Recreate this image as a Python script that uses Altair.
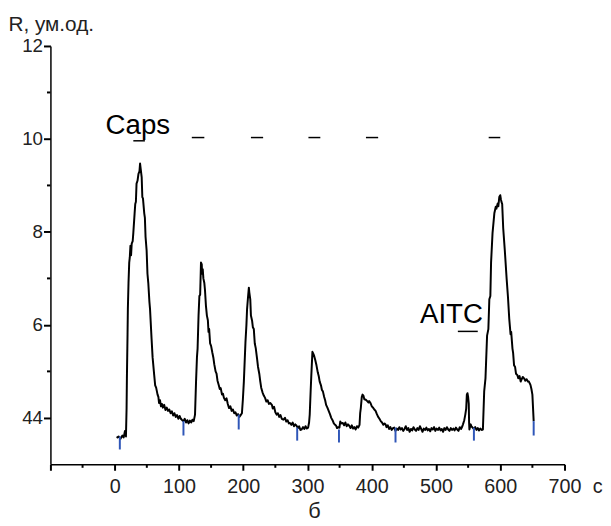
import altair as alt
import pandas as pd

# ---- trace (time, s ; R, arb. units) ----
t = [3, 6, 9, 12, 14, 16, 17.5, 18.5, 19, 20, 20.5, 21.5, 22.6, 23.5, 24.5, 25.5, 26.5, 28, 29, 31,
     32, 33, 34, 35.5, 37, 38.5, 39.5, 40.5, 42, 43, 44, 46, 47, 48, 49.7, 51, 52.3, 54, 55, 57.4,
     59, 61.5, 63, 64.5, 66.7, 68, 69, 70.5, 72, 73.5, 75, 77, 79, 81, 83, 85, 87, 89, 91, 93,
     95, 97, 99, 101, 103, 105, 107, 109, 111, 113, 115, 117, 119, 121, 123, 125, 126.6, 128, 129, 130.5,
     131.8, 133, 134.3, 135.5, 136, 137, 138, 139.5, 140.5, 142, 143.5, 145, 146, 147, 148.5, 150, 152, 153.5,
     155, 157, 158.5, 160, 162, 163.5, 165, 167, 168.5, 170, 172, 174, 176, 178, 180, 182, 184, 186,
     188, 190, 192, 194, 196, 198, 199.5, 201, 203.5, 205, 206, 207.5, 208.8, 209.5, 211, 212, 213.8, 215,
     216.5, 218, 219.5, 221.5, 223, 225, 226.6, 228, 230, 232, 234, 236, 238, 240, 242, 244.6, 246, 248,
     250, 252, 254, 256, 258, 260, 262.6, 265, 267, 269, 271, 272.8, 275, 277, 279, 281, 283, 285,
     287, 289, 290.8, 293, 295, 297, 299, 301, 302.5, 303.5, 305, 306, 307.7, 309, 310, 312, 314, 316,
     317.5, 319, 321, 322.5, 324, 326, 327.5, 329, 331, 333, 335, 337, 339, 341, 343, 344.6, 346, 348,
     349.7, 351, 353, 355, 357, 359, 361, 363, 365, 367, 369, 371, 373, 375, 377, 379, 381, 382,
     383, 384.5, 385.7, 387, 388.5, 390.8, 393, 395, 396, 398, 400, 402, 404, 406, 408, 410, 412, 414,
     416, 418, 420, 421.5, 423, 425, 427, 429, 431, 433, 435, 437, 439, 441, 443, 445, 447, 449,
     451, 453, 455, 457, 459, 461, 463, 465, 467, 469, 471, 473, 475, 477, 479, 481, 483, 485,
     487, 489, 491, 493, 495, 497, 499, 501, 503, 505, 507, 509, 511, 513, 515, 517, 519, 521,
     523, 525, 527, 529, 531, 533, 535, 537, 539, 541, 542, 544, 545.6, 547, 548, 549, 550, 551,
     551.5, 552, 554, 555, 557, 559, 561, 563, 565, 567, 569, 571, 573, 575, 577, 579.5, 581.5, 583,
     584.6, 585.7, 588, 590.8, 593, 594, 596, 597, 598.5, 600, 601, 602, 603, 604.6, 607, 610, 612, 614,
     616, 617, 619, 620, 621.5, 623, 624.5, 626.6, 628, 630, 631.8, 633, 635, 637, 639, 641, 643, 644.6,
     647, 648.5, 650, 652]
r = [3.57, 3.60, 3.55, 3.62, 3.58, 3.72, 3.60, 4.20, 4.85, 5.80, 6.34, 6.90, 7.34, 7.45, 7.70, 7.50, 7.75, 7.80, 7.98, 8.40,
     8.60, 8.65, 9.04, 9.10, 9.25, 9.30, 9.47, 9.35, 9.18, 8.75, 8.72, 8.40, 8.30, 7.90, 7.60, 7.10, 6.90, 6.50, 6.34, 5.70,
     5.30, 4.92, 4.70, 4.65, 4.50, 4.45, 4.32, 4.38, 4.25, 4.30, 4.22, 4.28, 4.17, 4.22, 4.15, 4.18, 4.10, 4.14, 4.05, 4.10,
     4.02, 4.06, 3.98, 4.04, 3.98, 3.95, 3.93, 3.98, 3.90, 3.95, 3.88, 3.94, 3.90, 3.96, 3.93, 4.07, 4.78, 5.30, 5.49, 6.20,
     6.62, 6.65, 7.34, 7.30, 7.10, 7.20, 7.00, 6.90, 6.75, 6.41, 6.20, 6.10, 5.85, 5.91, 5.60, 5.55, 5.40, 5.30,
     5.15, 5.00, 4.95, 4.80, 4.70, 4.62, 4.64, 4.50, 4.52, 4.43, 4.38, 4.42, 4.30, 4.21, 4.25, 4.15, 4.18, 4.10,
     4.12, 4.05, 4.08, 4.02, 4.06, 4.10, 4.40, 4.78, 5.63, 6.00, 6.34, 6.60, 6.80, 6.70, 6.55, 6.20, 6.09, 5.95,
     5.91, 5.60, 5.50, 5.28, 5.10, 4.95, 4.78, 4.65, 4.55, 4.48, 4.43, 4.35, 4.38, 4.30, 4.32, 4.28, 4.20, 4.24,
     4.12, 4.07, 4.10, 4.02, 4.06, 3.98, 3.96, 4.00, 3.92, 3.95, 3.88, 3.89, 3.85, 3.90, 3.82, 3.86, 3.83, 3.78,
     3.82, 3.74, 3.75, 3.80, 3.76, 3.82, 3.77, 3.79, 3.90, 4.07, 4.60, 4.92, 5.42, 5.38, 5.35, 5.25, 5.13, 4.98,
     4.90, 4.78, 4.70, 4.60, 4.57, 4.45, 4.38, 4.28, 4.22, 4.15, 4.08, 4.00, 3.95, 3.88, 3.85, 3.83, 3.78, 3.80,
     3.79, 3.92, 3.88, 3.89, 3.84, 3.90, 3.82, 3.86, 3.83, 3.78, 3.84, 3.77, 3.80, 3.75, 3.82, 3.79, 3.85, 4.10,
     4.21, 4.45, 4.50, 4.48, 4.40, 4.39, 4.36, 4.33, 4.36, 4.32, 4.25, 4.22, 4.18, 4.15, 4.08, 4.02, 3.98, 3.93,
     3.90, 3.85, 3.88, 3.86, 3.80, 3.84, 3.76, 3.80, 3.74, 3.78, 3.79, 3.72, 3.77, 3.74, 3.80, 3.75, 3.78, 3.72,
     3.76, 3.82, 3.74, 3.78, 3.70, 3.76, 3.73, 3.80, 3.75, 3.72, 3.78, 3.74, 3.82, 3.76, 3.70, 3.77, 3.74, 3.79,
     3.73, 3.76, 3.71, 3.78, 3.75, 3.80, 3.72, 3.77, 3.74, 3.79, 3.73, 3.76, 3.70, 3.78, 3.74, 3.80, 3.75, 3.72,
     3.78, 3.74, 3.77, 3.73, 3.79, 3.75, 3.72, 3.80, 3.76, 3.82, 3.86, 3.95, 4.07, 4.20, 4.50, 4.53, 4.45, 4.30,
     3.90, 3.75, 3.86, 3.82, 3.79, 3.76, 3.80, 3.74, 3.78, 3.73, 3.77, 3.74, 3.75, 4.57, 4.85, 5.77, 5.91, 6.55,
     6.62, 7.34, 7.98, 8.40, 8.54, 8.50, 8.61, 8.55, 8.75, 8.79, 8.70, 8.64, 8.60, 8.08, 7.62, 6.98, 6.60, 6.13,
     5.80, 5.85, 5.49, 5.40, 5.13, 5.10, 4.95, 4.92, 4.85, 4.90, 4.78, 4.82, 4.88, 4.85, 4.80, 4.83, 4.78, 4.78,
     4.71, 4.62, 4.50, 3.93]

# ---- blue markers (short vertical strokes below the trace) ----
mark_t = [8, 107, 193, 284, 349, 437, 559, 652]
mark_top = [3.60, 3.93, 4.07, 3.79, 3.75, 3.79, 3.79, 3.93]
mark_bot = [3.32, 3.62, 3.75, 3.51, 3.47, 3.47, 3.51, 3.62]

# ---- stimulus dashes ----
dash_t1 = [29, 120, 212, 301.5, 391, 582, 534]
dash_t2 = [47, 139.5, 231, 320, 410, 600, 565]
dash_r = [9.96, 10.03, 10.03, 10.03, 10.03, 10.03, 5.86]

# ---- annotations ----
ann_text = ["Caps", "AITC"]
ann_t = [36, 524]
ann_r = [10.1, 6.04]

unit_text = ["c"]
unit_t = [751.5]
unit_r = [2.38]

# ---- axis tick values ----
x_major = [-100, 0, 100, 200, 300, 400, 500, 600, 700]
x_minor = [-50, 50, 150, 250, 350, 450, 550, 650]
y_major = [4, 6, 8, 10, 12]
y_minor = [5, 7, 9, 11]

FONT = "Liberation Sans"
TXT = "#222222"
PLOT_W, PLOT_H = 521, 424

xscale = alt.Scale(domain=[-100, 700], nice=False, zero=False)
yscale = alt.Scale(domain=[3, 12], nice=False, zero=False)

xaxis = alt.Axis(
    values=x_major,
    labelExpr="datum.value >= 0 ? datum.label : ''",
    grid=False, labelOverlap=False, labelFlush=False,
    ticks=True, tickSize=6, tickColor="#000000", tickWidth=2,
    domainColor="#000000", domainWidth=1.5,
    labelFont=FONT, labelFontSize=20, labelColor=TXT,
    labelBaseline="alphabetic", labelPadding=23,
    title="б", titleFont=FONT, titleFontSize=22, titleFontWeight="normal", titleColor=TXT,
    titleX=267, titleY=54, titleBaseline="alphabetic", titleAlign="center",
)
yaxis = alt.Axis(
    values=y_major,
    labelExpr="datum.value == 4 ? '44' : datum.label",
    grid=False, labelOverlap=False, labelFlush=False,
    ticks=True, tickSize=7, tickColor="#000000", tickWidth=2,
    domainColor="#000000", domainWidth=1.5,
    labelFont=FONT, labelFontSize=19, labelColor=TXT, labelPadding=1,
    labelBaseline="middle",
    title="R, ум.од.", titleFont=FONT, titleFontSize=21, titleFontWeight="normal", titleColor=TXT,
    titleAngle=0, titleAlign="left", titleBaseline="alphabetic", titleX=-43, titleY=-16,
)

X = lambda f: alt.X(f, type="quantitative", scale=xscale, axis=xaxis)
Y = lambda f: alt.Y(f, type="quantitative", scale=yscale, axis=yaxis)

trace = pd.DataFrame({"t": t, "r": r, "o": list(range(len(t)))})
line = alt.Chart(trace).mark_line(color="black", strokeWidth=2, strokeJoin="round").encode(
    x=X("t"), y=Y("r"), order="o:Q"
)

marks = pd.DataFrame({"t": mark_t, "r": mark_top, "r2": mark_bot})
blue = alt.Chart(marks).mark_rule(color="#2f56b8", strokeWidth=2).encode(
    x=X("t"), y=Y("r"), y2="r2"
)

dashes = pd.DataFrame({"t": dash_t1, "t2": dash_t2, "r": dash_r})
dash = alt.Chart(dashes).mark_rule(color="black", strokeWidth=1.5).encode(
    x=X("t"), x2="t2", y=Y("r")
)

ann = pd.DataFrame({"t": ann_t, "r": ann_r, "label": ann_text})
ann_layer = alt.Chart(ann).mark_text(
    font=FONT, fontSize=28, color="black", align="center", baseline="alphabetic"
).encode(x=X("t"), y=Y("r"), text="label")

unit = pd.DataFrame({"t": unit_t, "r": unit_r, "label": unit_text})
unit_layer = alt.Chart(unit).mark_text(
    font=FONT, fontSize=20, color=TXT, align="center", baseline="alphabetic"
).encode(x=X("t"), y=Y("r"), text="label")

# minor tick strokes (positions through the scales)
xt_minor = alt.Chart(pd.DataFrame({"t": x_minor})).mark_rule(color="black", strokeWidth=2).encode(
    x=X("t"), y=alt.value(PLOT_H), y2=alt.value(PLOT_H + 3.5)
)
yt_minor = alt.Chart(pd.DataFrame({"r": y_minor})).mark_rule(color="black", strokeWidth=2).encode(
    y=Y("r"), x=alt.value(0), x2=alt.value(-3.5)
)

chart = alt.layer(
    line, blue, dash, ann_layer, unit_layer, xt_minor, yt_minor
).properties(
    width=PLOT_W, height=PLOT_H,
    autosize=alt.AutoSizeParams(type="none"),
    padding={"left": 43, "top": 35, "right": 39, "bottom": 59},
).configure_view(strokeWidth=0)

chart.save("out.html", embed_options={"renderer": "svg", "actions": False})
